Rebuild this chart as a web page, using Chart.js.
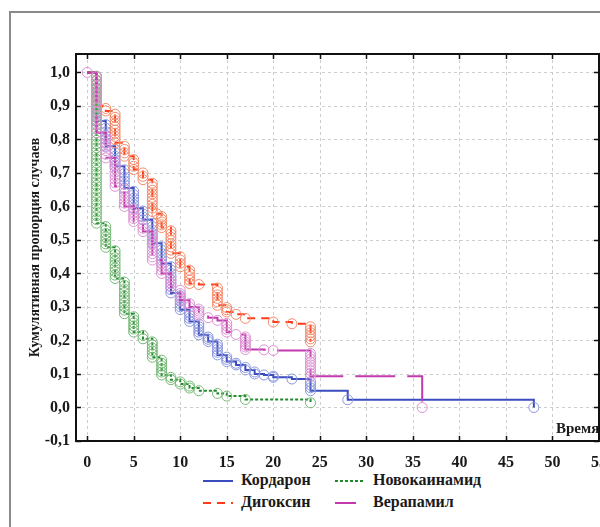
<!DOCTYPE html>
<html><head><meta charset="utf-8">
<script src="https://cdn.jsdelivr.net/npm/chart.js@4.4.1/dist/chart.umd.min.js"></script>
<style>
html,body{margin:0;padding:0;background:#fff;width:600px;height:527px;overflow:hidden;}
#frame{position:absolute;left:9px;top:11px;width:800px;height:800px;border:2px solid #8a8a8a;box-sizing:border-box;}
.lbl{position:absolute;font-family:"Liberation Serif",serif;font-weight:bold;font-size:16px;color:#1a1a1a;white-space:nowrap;line-height:18px;}
</style></head><body>
<div id="frame"></div>
<canvas id="c" width="640" height="470" style="position:absolute;left:0;top:0"></canvas>
<div class="lbl" style="left:556px;top:419px;font-size:15px;">Время</div>
<div id="legend"></div>
<script>
// ---- data ----
const xTicks = [0, 5, 10, 15, 20, 25, 30, 35, 40, 45, 50, 55];
const yTicks = [-0.1, 0, 0.1, 0.2, 0.3, 0.4, 0.5, 0.6, 0.7, 0.8, 0.9, 1.0];
const seriesNames = ['Кордарон', 'Дигоксин', 'Новокаинамид', 'Верапамил'];

// Кордарон
const kordaronTime   = [0, 1, 2, 3, 4, 5, 6, 7, 8, 9, 10, 11, 12, 13, 14, 15, 16, 17, 18, 19, 20, 22, 24, 28, 48];
const kordaronSurv   = [1.0, 0.855, 0.78, 0.72, 0.655, 0.595, 0.56, 0.49, 0.43, 0.342, 0.292, 0.257, 0.217, 0.197, 0.157, 0.137, 0.127, 0.112, 0.10, 0.097, 0.09, 0.085, 0.05, 0.023, 0.0];
const kordaronEvents = [0, 12, 7, 6, 6, 6, 4, 7, 6, 9, 6, 4, 5, 3, 5, 3, 2, 2, 2, 1, 2, 1, 4, 1, 1];

// Дигоксин
const digoxinTime   = [0, 1, 2, 3, 4, 5, 6, 7, 7.5, 8, 9, 10, 11, 12, 14, 15, 16, 17, 20, 22, 24];
const digoxinSurv   = [1.0, 0.90, 0.885, 0.79, 0.75, 0.71, 0.68, 0.585, 0.578, 0.537, 0.46, 0.42, 0.37, 0.367, 0.305, 0.285, 0.278, 0.266, 0.255, 0.25, 0.196];
const digoxinEvents = [0, 8, 2, 10, 4, 4, 3, 9, 1, 5, 8, 4, 5, 1, 6, 3, 1, 1, 1, 1, 6];

// Новокаинамид
const novoTime   = [0, 1, 2, 3, 4, 5, 6, 7, 8, 9, 10, 11, 12, 14, 15, 17, 24];
const novoSurv   = [1.0, 0.55, 0.478, 0.385, 0.28, 0.225, 0.205, 0.15, 0.097, 0.083, 0.07, 0.058, 0.05, 0.042, 0.034, 0.024, 0.014];
const novoEvents = [0, 40, 7, 9, 10, 6, 2, 6, 6, 2, 2, 2, 1, 1, 1, 1, 1];

// Верапамил
const verapTime   = [0, 1, 2, 3, 4, 5, 6, 7, 8, 9, 10, 11, 12, 13, 14, 15, 16, 17, 19, 20, 24, 36];
const verapSurv   = [1.0, 0.82, 0.745, 0.66, 0.60, 0.555, 0.525, 0.44, 0.40, 0.36, 0.32, 0.30, 0.275, 0.268, 0.26, 0.225, 0.218, 0.173, 0.172, 0.170, 0.093, 0.0];
const verapEvents = [1, 14, 7, 8, 6, 5, 3, 9, 4, 4, 4, 2, 4, 1, 1, 4, 1, 6, 1, 1, 9, 1];

// ---- styling ----
const styles = [
  {line:'#3b4cc0', pt:'#8a96dc', dash:[], width:2},
  {line:'#ff3b1a', pt:'#f48a68', dash:[8,6], width:2},
  {line:'#1e8a2a', pt:'#74b874', dash:[3,2], width:2},
  {line:'#c23aae', pt:'#dc92d2', dash:[40,12], width:2}
];
const seriesData = [
  [kordaronTime, kordaronSurv, kordaronEvents],
  [digoxinTime, digoxinSurv, digoxinEvents],
  [novoTime, novoSurv, novoEvents],
  [verapTime, verapSurv, verapEvents]
];
const drawOrder = [3, 2, 1, 0]; // higher = drawn earlier

const datasets = [];
seriesData.forEach(([t, s, e], i) => {
  const st = styles[i];
  const linePts = t.map((tv, j) => ({x: tv, y: s[j]}));
  const circles = [];
  t.forEach((tv, j) => {
    const prev = j > 0 ? s[j - 1] : s[j];
    const n = e[j];
    for (let k = 1; k <= n; k++) circles.push({x: tv, y: prev - (prev - s[j]) * k / n});
  });
  datasets.push({
    label: seriesNames[i], data: linePts, showLine: true, stepped: 'before',
    borderColor: st.line, borderWidth: st.width, borderDash: st.dash,
    pointRadius: 0, fill: false, order: drawOrder[i] * 2 + 1
  });
  datasets.push({
    label: seriesNames[i] + ' •', data: circles, showLine: false,
    pointStyle: 'circle', pointRadius: 5, pointBorderWidth: 1,
    pointBorderColor: st.pt, pointBackgroundColor: 'rgba(255,255,255,0)',
    order: drawOrder[i] * 2
  });
});

const fontFam = '"Liberation Serif", serif';
const boxPlugin = {
  id: 'box',
  beforeDatasetsDraw(chart) {
    const {ctx, chartArea: a, scales: {x, y}} = chart;
    ctx.save();
    ctx.strokeStyle = '#cdcdcd'; ctx.lineWidth = 1; ctx.setLineDash([3, 3]);
    xTicks.forEach(v => {
      const px = Math.round(x.getPixelForValue(v)) + 0.5;
      ctx.beginPath(); ctx.moveTo(px, a.top); ctx.lineTo(px, a.bottom); ctx.stroke();
    });
    yTicks.forEach(v => {
      const py = Math.round(y.getPixelForValue(v)) + 0.5;
      ctx.beginPath(); ctx.moveTo(a.left, py); ctx.lineTo(a.right, py); ctx.stroke();
    });
    ctx.restore();
  },
  afterDatasetsDraw(chart) {
    const {ctx, chartArea: a, scales: {x, y}} = chart;
    ctx.save();
    ctx.setLineDash([]);
    ctx.strokeStyle = '#111'; ctx.lineWidth = 2;
    ctx.strokeRect(a.left, a.top, a.right - a.left, a.bottom - a.top);
    ctx.lineWidth = 1.5;
    const L = 5;
    xTicks.forEach(v => {
      const px = Math.round(x.getPixelForValue(v)) + 0.5;
      ctx.beginPath();
      ctx.moveTo(px, a.bottom); ctx.lineTo(px, a.bottom - L);
      ctx.moveTo(px, a.top); ctx.lineTo(px, a.top + L);
      ctx.stroke();
    });
    yTicks.forEach(v => {
      const py = Math.round(y.getPixelForValue(v)) + 0.5;
      ctx.beginPath();
      ctx.moveTo(a.left, py); ctx.lineTo(a.left + L, py);
      ctx.moveTo(a.right, py); ctx.lineTo(a.right - L, py);
      ctx.stroke();
    });
    ctx.restore();
  }
};

new Chart(document.getElementById('c'), {
  type: 'scatter',
  data: {datasets},
  options: {
    responsive: false, animation: false, devicePixelRatio: 1,
    layout: {padding: {left: 0, top: 54, right: 41, bottom: 0}},
    plugins: {legend: {display: false}, tooltip: {enabled: false}},
    scales: {
      x: {
        type: 'linear', min: -1.2, max: 55,
        afterBuildTicks: s => { s.ticks = xTicks.map(v => ({value: v})); },
        afterFit: s => { s.height = 29; },
        grid: {display: false, drawTicks: false}, border: {display: false},
        ticks: {padding: 12, color: '#1a1a1a', font: {family: fontFam, size: 16, weight: 'bold'}, maxRotation: 0,
                callback: v => String(v)}
      },
      y: {
        type: 'linear', min: -0.1, max: 1.055,
        afterBuildTicks: s => { s.ticks = yTicks.map(v => ({value: v})); },
        afterFit: s => { s.width = 76; },
        grid: {display: false, drawTicks: false}, border: {display: false},
        ticks: {padding: 6, color: '#1a1a1a', font: {family: fontFam, size: 16, weight: 'bold'},
                callback: v => Number(v).toFixed(1).replace('.', ',')},
        title: {display: true, text: 'Кумулятивная пропорция случаев', color: '#1a1a1a',
                font: {family: fontFam, size: 14, weight: 'bold'}, padding: {top: 27, bottom: 0}}
      }
    }
  },
  plugins: [boxPlugin]
});

// ---- legend ----
const legendPos = [
  {x: 203, y: 481, len: 30, tx: 241},
  {x: 203, y: 503, len: 30, tx: 241},
  {x: 335, y: 481, len: 28, tx: 373},
  {x: 335, y: 503, len: 21, tx: 373}
];
const lg = document.getElementById('legend');
seriesNames.forEach((name, i) => {
  const p = legendPos[i], st = styles[i];
  const dash = st.dash.length ? (i === 3 ? '' : st.dash.join(',')) : '';
  const svg = document.createElementNS('http://www.w3.org/2000/svg', 'svg');
  svg.setAttribute('width', p.len + 2); svg.setAttribute('height', 6);
  svg.style.position = 'absolute'; svg.style.left = p.x + 'px'; svg.style.top = (p.y - 3) + 'px';
  const ln = document.createElementNS('http://www.w3.org/2000/svg', 'line');
  ln.setAttribute('x1', 0); ln.setAttribute('x2', p.len); ln.setAttribute('y1', 3); ln.setAttribute('y2', 3);
  ln.setAttribute('stroke', st.line); ln.setAttribute('stroke-width', 2);
  if (dash) ln.setAttribute('stroke-dasharray', dash);
  svg.appendChild(ln); lg.appendChild(svg);
  const d = document.createElement('div');
  d.className = 'lbl'; d.textContent = name;
  d.style.left = p.tx + 'px'; d.style.top = (p.y - 10) + 'px';
  lg.appendChild(d);
});
</script>
</body></html>
